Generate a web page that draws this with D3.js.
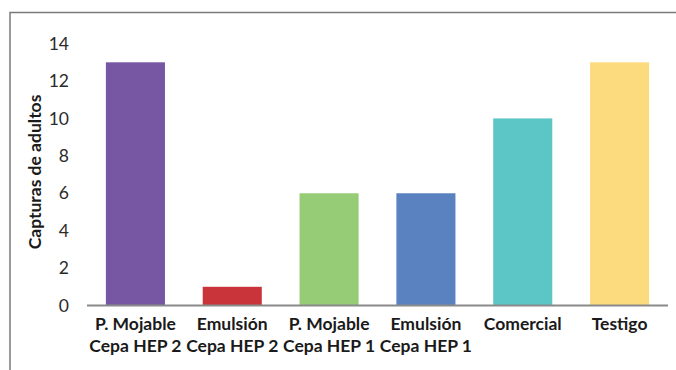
<!DOCTYPE html>
<html>
<head>
<meta charset="utf-8">
<script src="https://cdn.jsdelivr.net/npm/d3@7"></script>
<style>
  html, body { margin: 0; padding: 0; background: #fff; }
  svg { display: block; }
</style>
</head>
<body>
<svg id="chart" width="676" height="370"></svg>
<script>
// Capturas de adultos por tratamiento
const categories = [
  ["P. Mojable", "Cepa HEP 2"],
  ["Emulsión", "Cepa HEP 2"],
  ["P. Mojable", "Cepa HEP 1"],
  ["Emulsión", "Cepa HEP 1"],
  ["Comercial"],
  ["Testigo"]
];
const values = [13, 1, 6, 6, 10, 13];
const colors = ["#7756a4", "#c9343a", "#97cc77", "#5a82c1", "#5cc6c6", "#fcda7e"];
const yTicks = [0, 2, 4, 6, 8, 10, 12, 14];
const yTitle = "Capturas de adultos";

const svg = d3.select("#chart");
const font = "Lato, 'Open Sans', sans-serif";

// outer frame (top and left edges visible)
svg.append("path")
  .attr("d", "M10,370 L10,12.5 L676,12.5")
  .attr("fill", "none")
  .attr("stroke", "#7a7a7a")
  .attr("stroke-width", 1.5);

const x = d3.scaleBand()
  .domain(d3.range(categories.length))
  .range([87, 668])
  .paddingInner(0.39)
  .paddingOuter(0.195);

const y = d3.scaleLinear()
  .domain([0, 14])
  .range([305.5, 43.6]);

// bars
svg.append("g").selectAll("rect")
  .data(values)
  .join("rect")
  .attr("x", (d, i) => x(i))
  .attr("width", x.bandwidth())
  .attr("y", d => y(d))
  .attr("height", d => y(0) - y(d))
  .attr("fill", (d, i) => colors[i]);

// y axis labels
const yAxis = svg.append("g")
  .attr("transform", "translate(69,0)")
  .call(d3.axisLeft(y).tickValues(yTicks).tickSize(0).tickPadding(0));
yAxis.select(".domain").remove();
yAxis.selectAll("text")
  .attr("font-family", font)
  .attr("font-size", 17.5)
  .attr("fill", "#2b2b2b");

// baseline
svg.append("line")
  .attr("x1", 87).attr("x2", 668)
  .attr("y1", y(0)).attr("y2", y(0))
  .attr("stroke", "#8a8a8a")
  .attr("stroke-width", 2);

// category labels
const lab = svg.append("g").selectAll("text")
  .data(categories)
  .join("text")
  .attr("x", (d, i) => x(i) + x.bandwidth() / 2)
  .attr("y", 330)
  .attr("text-anchor", "middle")
  .attr("font-family", font)
  .attr("font-weight", "bold")
  .attr("font-size", 17.5)
  .attr("fill", "#1a1a1a");
lab.selectAll("tspan")
  .data(d => d)
  .join("tspan")
  .attr("x", function () { return this.parentNode.getAttribute("x"); })
  .attr("dy", (d, j) => j === 0 ? 0 : 22)
  .text(d => d);

// y title
svg.append("text")
  .attr("transform", "translate(41,172) rotate(-90)")
  .attr("text-anchor", "middle")
  .attr("font-family", font)
  .attr("font-weight", "bold")
  .attr("font-size", 17.5)
  .attr("fill", "#1a1a1a")
  .text(yTitle);
</script>
</body>
</html>
